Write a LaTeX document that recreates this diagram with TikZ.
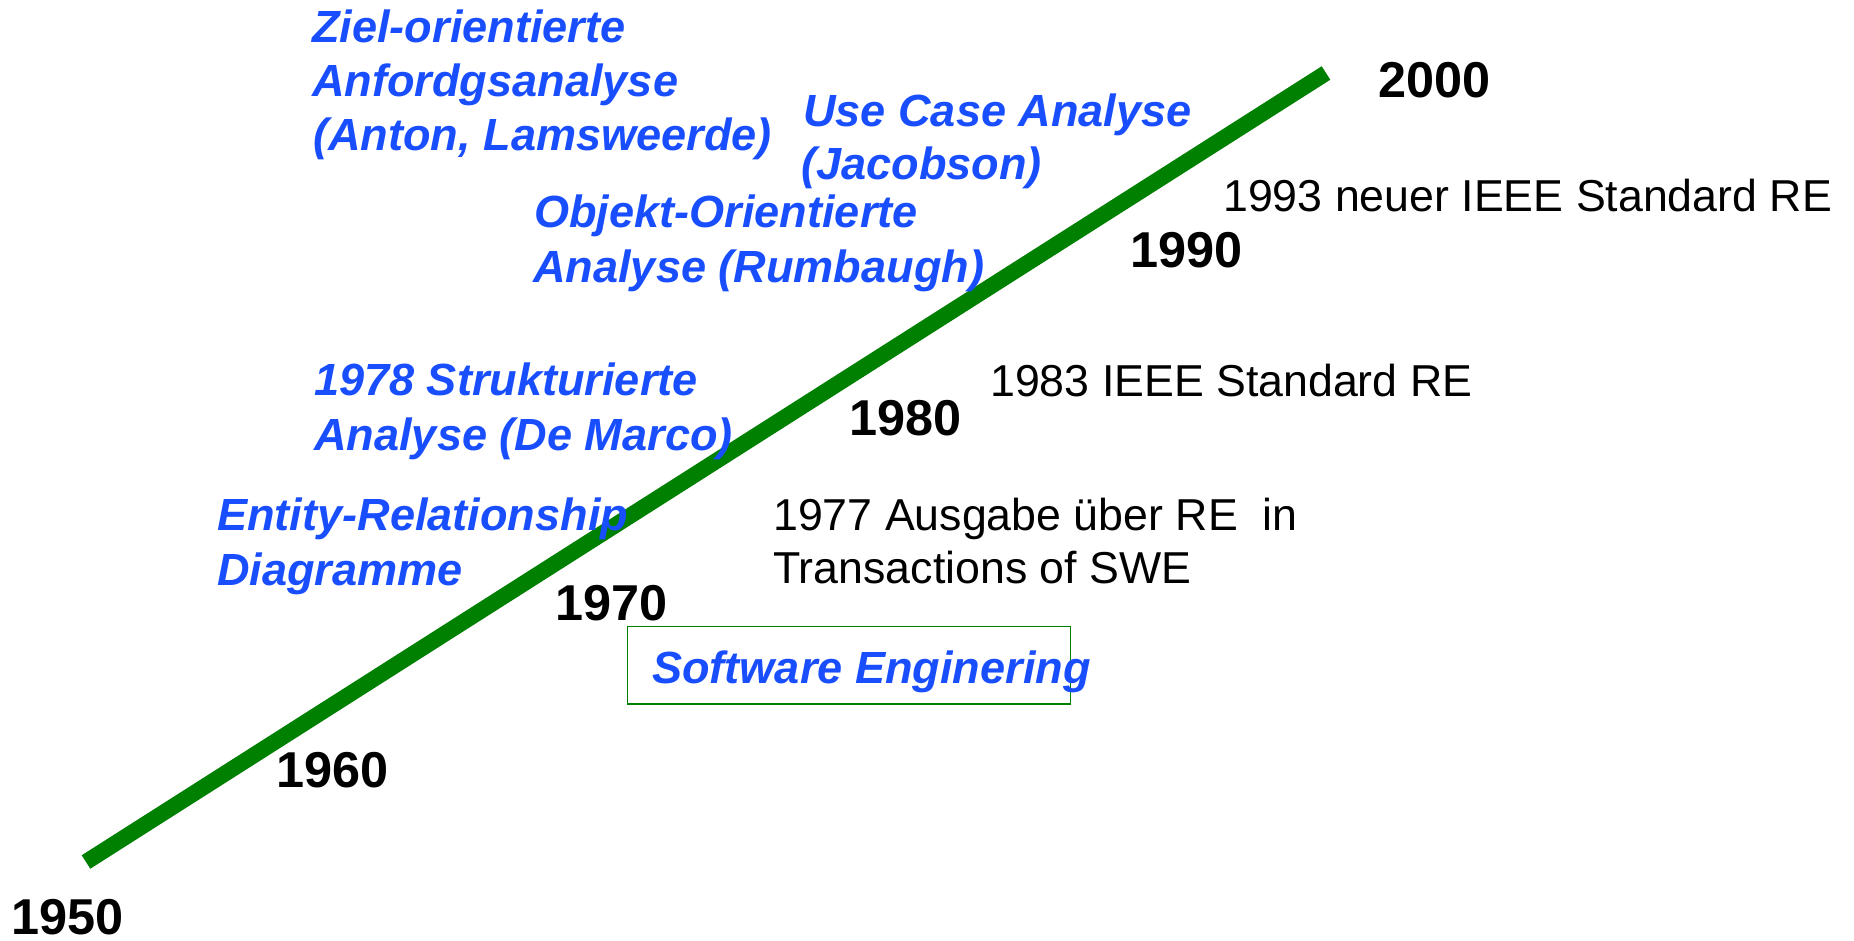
\documentclass[tikz,border=0pt]{standalone}
\usepackage{fontspec}
\setmainfont{Liberation Sans}
\definecolor{reblue}{RGB}{25,78,255}
\definecolor{regreen}{RGB}{0,128,0}
\tikzset{
  blueitem/.style={anchor=base west, inner sep=0pt, text=reblue,
    font=\fontsize{45.1}{54}\selectfont\bfseries\itshape},
  yearlabel/.style={anchor=base west, inner sep=0pt, text=black,
    font=\fontsize{50.4}{58}\selectfont\bfseries},
  notelabel/.style={anchor=base west, inner sep=0pt, text=black,
    font=\fontsize{44.7}{54}\selectfont},
  timeline/.style={draw=regreen, line width=16pt, line cap=butt},
  sebox/.style={draw=regreen, line width=1.4pt, inner sep=0pt,
    minimum width=443.4pt, minimum height=77.3pt},
}
\begin{document}
\begin{tikzpicture}[x=1pt,y=1pt]
\useasboundingbox (0,0) rectangle (1854,-941);
% timeline
\coordinate (tstart) at (86,-862);
\coordinate (tend) at (1326,-73);
\draw[timeline] (tstart) -- (tend);
% years
\node[yearlabel] (y2000) at (1378,-98) {2000};
\node[yearlabel] (y1990) at (1130,-267) {1990};
\node[yearlabel] (y1980) at (849,-435) {1980};
\node[yearlabel] (y1970) at (555,-620) {1970};
\node[yearlabel] (y1960) at (276,-787) {1960};
\node[yearlabel] (y1950) at (11,-934) {1950};
% notes
\node[notelabel] (n1993) at (1223,-211.5) {1993 neuer IEEE Standard RE};
\node[notelabel] (n1983) at (990,-396) {1983 IEEE Standard RE};
\node[notelabel] (n1977a) at (773,-530) {1977 Ausgabe über RE\ \ in};
\node[notelabel] (n1977b) at (773,-583) {Transactions of SWE};
% methods
\node[blueitem] (ziel1) at (312,-42.7) {Ziel-orientierte};
\node[blueitem] (ziel2) at (312,-96.7) {Anfordgsanalyse};
\node[blueitem] (ziel3) at (313,-150.5) {(Anton, Lamsweerde)};
\node[blueitem] (uc1) at (803,-127) {Use Case Analyse};
\node[blueitem] (uc2) at (801,-180) {(Jacobson)};
\node[blueitem] (oo1) at (534,-228) {Objekt-Orientierte};
\node[blueitem] (oo2) at (533,-283) {Analyse (Rumbaugh)};
\node[blueitem] (sa1) at (314,-395) {1978 Strukturierte};
\node[blueitem] (sa2) at (314,-450) {Analyse (De Marco)};
\node[blueitem] (er1) at (217,-530) {Entity-Relationship};
\node[blueitem] (er2) at (217,-585) {Diagramme};
% software engineering box
\node[sebox] (sebox) at (849,-665.4) {};
\node[blueitem] (se) at (652,-683) {Software Enginering};
\end{tikzpicture}
\end{document}
